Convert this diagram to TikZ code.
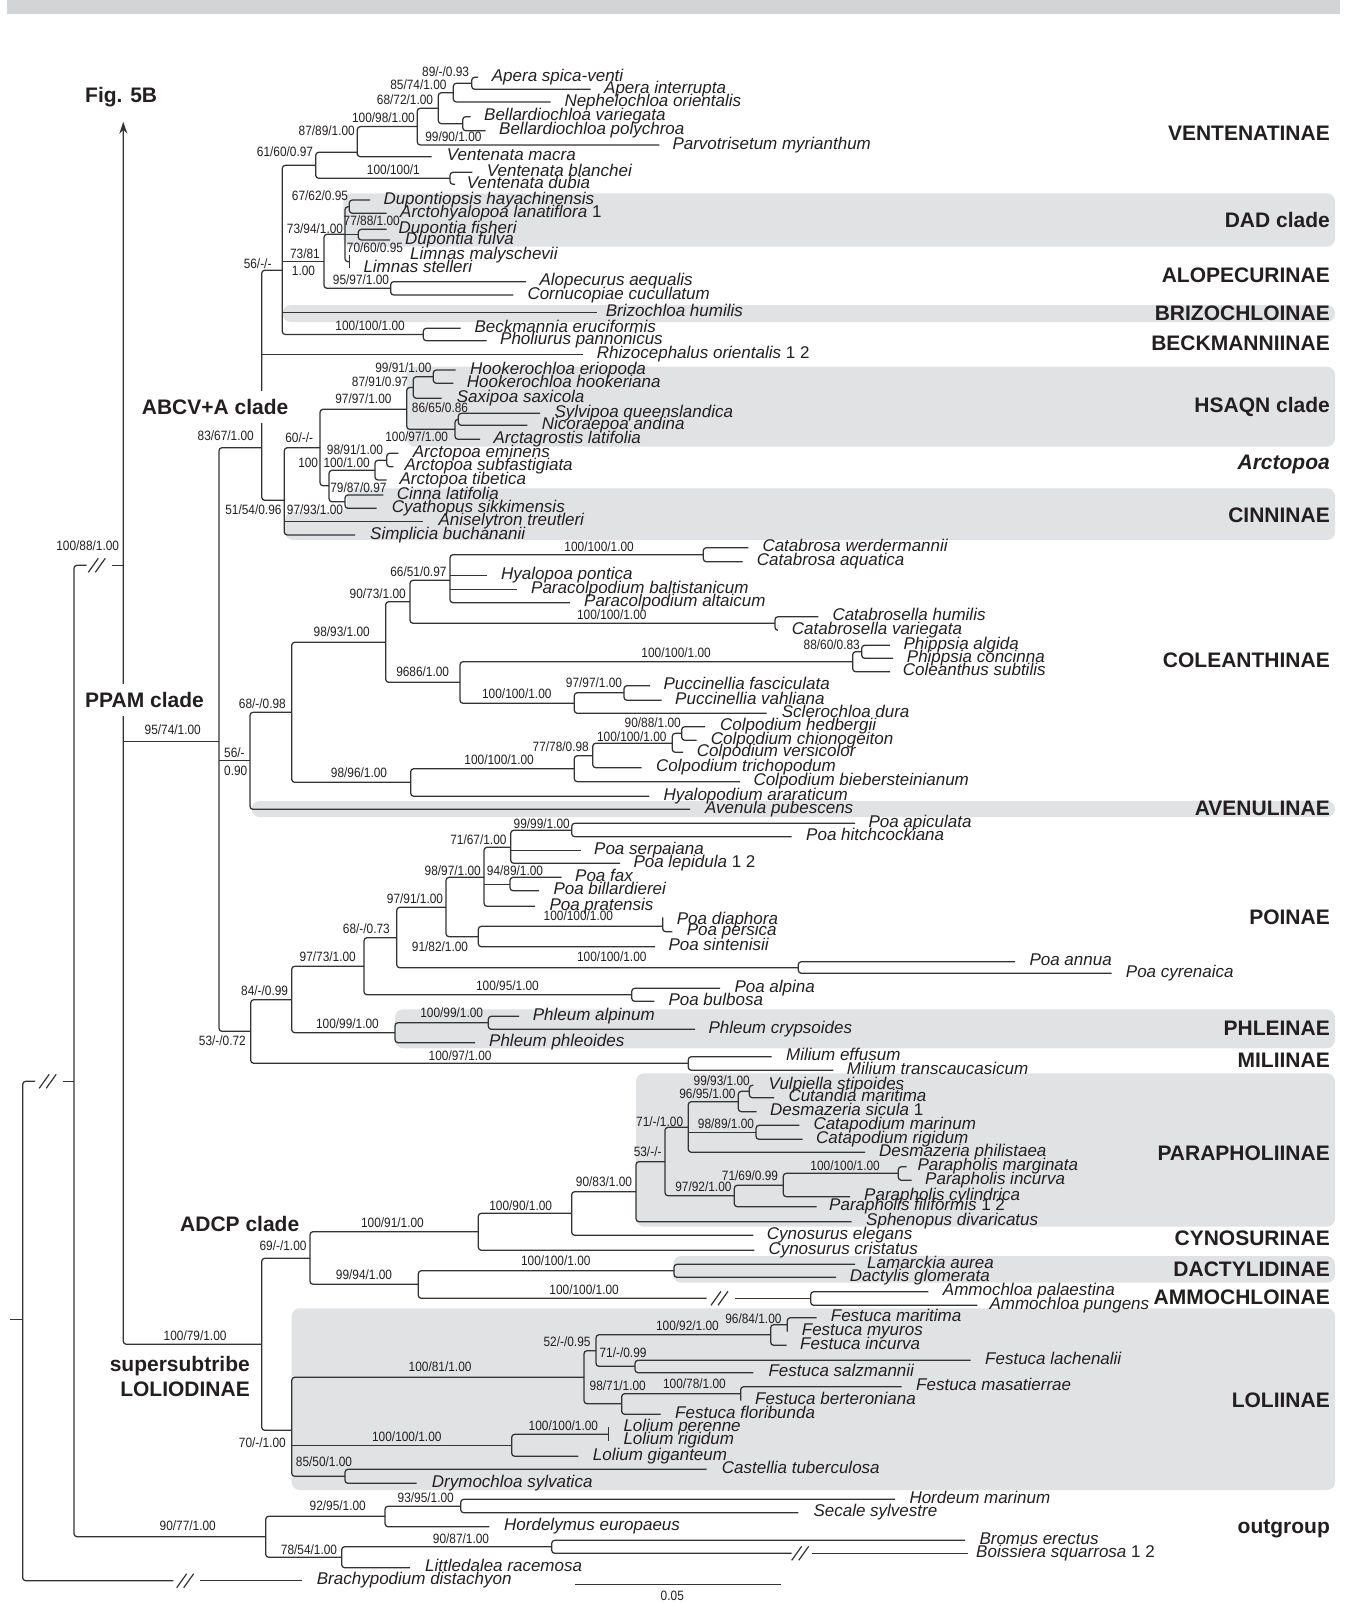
\documentclass[tikz,border=0pt]{standalone}
\usepackage{fontspec}
\setmainfont{Liberation Sans}
\newfontfamily\suppfont[FakeStretch=0.88]{Liberation Sans}
\usetikzlibrary{arrows.meta}
\definecolor{ink}{HTML}{231F20}
\definecolor{branch}{HTML}{333333}
\definecolor{bandgray}{HTML}{E1E2E4}
\definecolor{bargray}{HTML}{D3D4D6}
\newcounter{suppc}
\tikzset{
  br/.style={line width=1.25pt, draw=branch, rounded corners=3pt},
  sp/.style={anchor=base west, inner sep=0pt, text=ink, font=\fontsize{17}{17}\selectfont\itshape},
  sup/.style={inner sep=0pt, text=ink, font=\suppfont\fontsize{13.5}{13.5}\selectfont},
  grp/.style={anchor=base east, inner sep=0pt, text=ink, font=\fontsize{21}{21}\selectfont\bfseries},
  big/.style={anchor=base west, inner xsep=2pt, inner ysep=0pt, text=ink, font=\fontsize{21}{21}\selectfont\bfseries},
  band/.style={fill=bandgray, rounded corners=8pt},
  brkmark/.pic={\draw[line width=1.2pt, draw=branch] (-10,7) -- (0,-7) (-3,7) -- (7,-7);},
}
% taxon: name, tip x, tip y, text x, text
\newcommand\taxon[5]{\coordinate (#1) at (#2,#3); \node[sp] (#1-n) at (#4,#3+4) {#5};}
\newcommand\inode[3]{\coordinate (#1) at (#2,#3);}
\newcommand\clade[3]{\draw[br] (#2) -| (#1) |- (#3);}
\newcommand\midbr[2]{\draw[br] (#1 |- #2) -- (#2);}
\newcommand\supp[3]{\stepcounter{suppc}\node[sup,anchor=east] (s\arabic{suppc}) at (#1,#2) {#3};}
\newcommand\suppw[3]{\stepcounter{suppc}\node[sup,anchor=west] (s\arabic{suppc}) at (#1,#2) {#3};}
\begin{document}
\begin{tikzpicture}[x=1pt,y=-1pt]
\useasboundingbox (0,0) rectangle (1344,1603);
\fill[bargray] (7,0) rectangle (1340,14.5);

% ---------- shaded groups ----------
\fill[band] (343.3,193.3) rectangle (1335,246.7);
\fill[band] (282.7,305) rectangle (1335,322);
\fill[band] (406.7,366.7) rectangle (1335,446.7);
\fill[band] (347,488.3) -- (1335,488.3) -- (1335,540) -- (285,540) -- (285,512) -- (347,512) -- cycle;
\fill[band] (251.7,801) rectangle (1335,817);
\fill[band] (395,1009.3) rectangle (1335,1048.3);
\fill[band] (636,1073.3) rectangle (1335,1226.7);
\fill[band] (673.3,1256) rectangle (1335,1282.7);
\fill[band] (291.7,1308.3) rectangle (1335,1490);

% ---------- taxa ----------
\taxon{tApsp}{478}{77.3}{491.7}{Apera spica-venti}
\taxon{tApin}{590.7}{89.3}{604}{Apera interrupta}
\taxon{tNeph}{550.7}{102}{564.3}{Nephelochloa orientalis}
\taxon{tBvar}{470.7}{116.7}{484}{Bellardiochloa variegata}
\taxon{tBpol}{485.7}{130.7}{499}{Bellardiochloa polychroa}
\taxon{tParv}{659.3}{145}{672.3}{Parvotrisetum myrianthum}
\taxon{tVmac}{431.7}{156.7}{446.7}{Ventenata macra}
\taxon{tVbla}{472.3}{172.3}{486.7}{Ventenata blanchei}
\taxon{tVdub}{455}{184.3}{466.7}{Ventenata dubia}
\taxon{tDhay}{370}{200}{383.3}{Dupontiopsis hayachinensis}
\taxon{tAlan}{386.7}{213.3}{400}{Arctohyalopoa lanatiflora\upshape\ 1}
\taxon{tDfis}{386.7}{229.3}{398.3}{Dupontia fisheri}
\taxon{tDful}{390}{240}{405}{Dupontia fulva}
\taxon{tLmal}{349.3}{255}{410}{Limnas malyschevii}
\taxon{tLste}{349.3}{268.3}{363.3}{Limnas stelleri}
\taxon{tAaeq}{526}{281.7}{539.3}{Alopecurus aequalis}
\taxon{tCcuc}{513.3}{295}{527.3}{Cornucopiae cucullatum}
\taxon{tBhum}{596.7}{312.5}{605.7}{Brizochloa humilis}
\taxon{tBeru}{460.7}{328.3}{474.3}{Beckmannia eruciformis}
\taxon{tPpan}{486.7}{340.7}{500}{Pholiurus pannonicus}
\taxon{tRori}{583.3}{354.5}{596.7}{Rhizocephalus orientalis\upshape\ 1 2}
\taxon{tHeri}{455.7}{370}{470}{Hookerochloa eriopoda}
\taxon{tHhoo}{453.3}{383.3}{466.7}{Hookerochloa hookeriana}
\taxon{tSsax}{441.7}{398.3}{456.7}{Saxipoa saxicola}
\taxon{tSque}{540}{413.3}{554.3}{Sylvipoa queenslandica}
\taxon{tNand}{527.3}{425.3}{541.7}{Nicoraepoa andina}
\taxon{tAlat}{480}{439.3}{493.3}{Arctagrostis latifolia}
\taxon{tAemi}{398.3}{453.3}{412.7}{Arctopoa eminens}
\taxon{tAsub}{393.3}{466.7}{404.3}{Arctopoa subfastigiata}
\taxon{tAtib}{386.7}{480}{399.3}{Arctopoa tibetica}
\taxon{tClat}{383.3}{495}{396.7}{Cinna latifolia}
\taxon{tCsik}{376.7}{508.3}{391.7}{Cyathopus sikkimensis}
\taxon{tAtre}{423.3}{521.5}{438.3}{Aniselytron treutleri}
\taxon{tSbuc}{355}{535}{370}{Simplicia buchananii}
\taxon{tCwer}{748.3}{547.7}{762.3}{Catabrosa werdermannii}
\taxon{tCaqu}{742.7}{561.7}{756.7}{Catabrosa aquatica}
\taxon{tHpon}{486.7}{575.3}{501}{Hyalopoa pontica}
\taxon{tPbal}{516.7}{589.3}{531}{Paracolpodium baltistanicum}
\taxon{tPalt}{570}{602.7}{584}{Paracolpodium altaicum}
\taxon{tChum}{818.3}{616.7}{832.3}{Catabrosella humilis}
\taxon{tCvar}{778}{630.3}{791.7}{Catabrosella variegata}
\taxon{tPalg}{890}{645.3}{903.3}{Phippsia algida}
\taxon{tPcon}{893}{658.3}{906.7}{Phippsia concinna}
\taxon{tCsub}{890}{671.7}{902.7}{Coleanthus subtilis}
\taxon{tPfas}{650}{685.7}{663.3}{Puccinellia fasciculata}
\taxon{tPvah}{661.7}{700.3}{675}{Puccinellia vahliana}
\taxon{tSdur}{766.7}{713.3}{781.7}{Sclerochloa dura}
\taxon{tChed}{705}{726.7}{720}{Colpodium hedbergii}
\taxon{tCchi}{696.7}{740.3}{710.7}{Colpodium chionogeiton}
\taxon{tCver}{683}{752.3}{696.7}{Colpodium versicolor}
\taxon{tCtri}{641.7}{767.7}{656}{Colpodium trichopodum}
\taxon{tCbie}{740}{781.7}{753.3}{Colpodium biebersteinianum}
\taxon{tHara}{649.3}{796.3}{663.3}{Hyalopodium araraticum}
\taxon{tApub}{690}{809.3}{705}{Avenula pubescens}
\taxon{tPapi}{855}{823.3}{868.3}{Poa apiculata}
\taxon{tPhit}{791.7}{836.7}{806}{Poa hitchcockiana}
\taxon{tPser}{581}{850.7}{594}{Poa serpaiana}
\taxon{tPlep}{620}{863.3}{633.3}{Poa lepidula\upshape\ 1 2}
\taxon{tPfax}{561.7}{877.3}{575}{Poa fax}
\taxon{tPbil}{539}{890.7}{553.3}{Poa billardierei}
\taxon{tPpra}{535}{906.3}{549.3}{Poa pratensis}
\taxon{tPdia}{662.7}{920.3}{676.7}{Poa diaphora}
\taxon{tPper}{672.3}{931.7}{686.7}{Poa persica}
\taxon{tPsin}{655}{946.7}{668.3}{Poa sintenisii}
\taxon{tPann}{1015}{961.7}{1029.3}{Poa annua}
\taxon{tPcyr}{1111.7}{973.3}{1125.7}{Poa cyrenaica}
\taxon{tPalp}{720}{988.3}{734.3}{Poa alpina}
\taxon{tPbul}{654.3}{1001.3}{668.3}{Poa bulbosa}
\taxon{tPhal}{519}{1016.3}{532.7}{Phleum alpinum}
\taxon{tPhcr}{695}{1029.3}{708.3}{Phleum crypsoides}
\taxon{tPhph}{475}{1042.7}{489}{Phleum phleoides}
\taxon{tMeff}{771.7}{1056.7}{786}{Milium effusum}
\taxon{tMtra}{833.3}{1070.3}{846.7}{Milium transcaucasicum}
\taxon{tVsti}{753.3}{1085.3}{768.3}{Vulpiella stipoides}
\taxon{tCmar}{774}{1097.7}{788.3}{Cutandia maritima}
\taxon{tDsic}{756.7}{1111.7}{770}{Desmazeria sicula\upshape\ 1}
\taxon{tCmrn}{799.3}{1125.3}{813.3}{Catapodium marinum}
\taxon{tCrig}{802.7}{1139.3}{816}{Catapodium rigidum}
\taxon{tDphi}{865}{1152.3}{879}{Desmazeria philistaea}
\taxon{tPmar}{906.7}{1166.7}{917.3}{Parapholis marginata}
\taxon{tPinc}{911.7}{1180.3}{925}{Parapholis incurva}
\taxon{tPcyl}{850}{1196.7}{864}{Parapholis cylindrica}
\taxon{tPfil}{816.7}{1206.7}{829}{Parapholis filiformis\upshape\ 1 2}
\taxon{tSdiv}{851.7}{1221.7}{866}{Sphenopus divaricatus}
\taxon{tCele}{753.3}{1235.3}{766.7}{Cynosurus elegans}
\taxon{tCcri}{754.3}{1250.3}{768.3}{Cynosurus cristatus}
\taxon{tLaur}{855}{1264.3}{867}{Lamarckia aurea}
\taxon{tDglo}{836}{1277.3}{849.7}{Dactylis glomerata}
\taxon{tApal}{928.3}{1291.7}{942.7}{Ammochloa palaestina}
\taxon{tApun}{977.3}{1305.3}{989.3}{Ammochloa pungens}
\taxon{tFmar}{816.7}{1317.7}{830.7}{Festuca maritima}
\taxon{tFmyu}{787.3}{1331.7}{801.7}{Festuca myuros}
\taxon{tFinc}{786.7}{1345.3}{800}{Festuca incurva}
\taxon{tFlac}{970.7}{1360.3}{985}{Festuca lachenalii}
\taxon{tFsal}{753.3}{1372.7}{768.3}{Festuca salzmannii}
\taxon{tFmas}{901.7}{1386.7}{916}{Festuca masatierrae}
\taxon{tFber}{740.7}{1400.7}{755}{Festuca berteroniana}
\taxon{tFflo}{660.7}{1414.3}{675}{Festuca floribunda}
\taxon{tLper}{608.3}{1427.3}{623.3}{Lolium perenne}
\taxon{tLrig}{608.3}{1440.7}{623.3}{Lolium rigidum}
\taxon{tLgig}{578.3}{1456.3}{592.7}{Lolium giganteum}
\taxon{tCtub}{706.7}{1469.3}{721.7}{Castellia tuberculosa}
\taxon{tDsyl}{416.7}{1483.3}{431.7}{Drymochloa sylvatica}
\taxon{tHmar}{895}{1499.3}{909.3}{Hordeum marinum}
\taxon{tSsyl}{798.3}{1512.7}{813.3}{Secale sylvestre}
\taxon{tHeur}{489.3}{1526.7}{504}{Hordelymus europaeus}
\taxon{tBrer}{965}{1540.3}{979.3}{Bromus erectus}
\taxon{tBsqu}{968.3}{1553.3}{976}{Boissiera squarrosa\upshape\ 1 2}
\taxon{tLrac}{410}{1567.7}{425}{Littledalea racemosa}
\taxon{tBdis}{301.7}{1580.7}{316.7}{Brachypodium distachyon}

% ---------- internal nodes (x of the bracket, y where the stem enters) ----------
\inode{N472}{471.7}{83.3}
\inode{N453}{453.3}{92.7}
\inode{N462}{462.7}{123.7}
\inode{N438}{438.3}{108.2}
\inode{N417}{417.3}{126.6}
\inode{N357}{357.3}{152.3}
\inode{N450}{450}{178.3}
\inode{N315}{315.7}{165.3}
\inode{N349a}{349.3}{206.7}
\inode{N358}{358.3}{234.7}
\inode{N349b}{349.3}{261.7}
\inode{N345}{345}{234.3}
\inode{N390}{390.7}{288.3}
\inode{N324}{324}{261.3}
\inode{N425}{423.3}{334.5}
\inode{N282}{282.3}{270.3}
\inode{N433}{433.3}{376.7}
\inode{N413}{413.3}{387.5}
\inode{NC2}{458.3}{419.3}
\inode{NC}{455}{429.3}
\inode{N407}{406.7}{409.3}
\inode{N386}{386.7}{460.3}
\inode{N375}{375}{470.3}
\inode{N345c}{345}{501.7}
\inode{N329}{329}{485.7}
\inode{N320}{320}{447.7}
\inode{N284}{284.3}{500.3}
\inode{N261}{261.7}{447.7}
\inode{N703}{703.3}{554.7}
\inode{N449}{450}{580.3}
\inode{N775}{775}{623.3}
\inode{N410}{410}{601.7}
\inode{N861}{861.7}{651.7}
\inode{N852}{852.7}{661.7}
\inode{N624}{624}{692.7}
\inode{N574a}{574.3}{703.3}
\inode{N460}{460}{682.3}
\inode{N385}{385.7}{642.3}
\inode{N681}{681.7}{733.3}
\inode{N672}{672.3}{743.3}
\inode{N592}{592.7}{755.7}
\inode{N574b}{574.3}{768.7}
\inode{N410b}{410.7}{782.3}
\inode{N291}{291.7}{712.3}
\inode{N250a}{250}{760.7}
\inode{N571}{571.7}{830.3}
\inode{N510b}{510.7}{847.3}
\inode{N510}{510}{884.3}
\inode{N484}{484}{877.3}
\inode{N662}{662.7}{926.3}
\inode{N478}{478.3}{936.7}
\inode{N446}{446}{907.3}
\inode{N798}{798.3}{967.7}
\inode{N396}{396.7}{937.7}
\inode{N631}{631.7}{994.7}
\inode{N364}{364}{966.3}
\inode{N488}{488.3}{1022.7}
\inode{N395}{395}{1032.7}
\inode{N291b}{291.7}{999.7}
\inode{N688}{688.3}{1063.3}
\inode{N250b}{250.7}{1031.3}
\inode{N219}{219}{741.7}
\inode{N749}{749.3}{1091.3}
\inode{N738}{738.3}{1101.7}
\inode{N756}{756}{1132.3}
\inode{N688c}{688.3}{1127.3}
\inode{N898}{898.3}{1173.3}
\inode{N783}{783.3}{1185.3}
\inode{N734}{734.3}{1195.7}
\inode{N665}{665}{1161.7}
\inode{N636}{636}{1191.7}
\inode{N571c}{571.7}{1213.3}
\inode{N478c}{478.3}{1231.7}
\inode{N674}{674}{1270.7}
\inode{N810}{810.7}{1298.3}
\inode{N418}{418.3}{1284.3}
\inode{N310}{310}{1258.3}
\inode{N787}{787.3}{1324.7}
\inode{N770}{770.7}{1334.7}
\inode{N635}{635}{1366.3}
\inode{N596}{596}{1350.7}
\inode{N740}{740.7}{1393.7}
\inode{N621}{621.7}{1403.7}
\inode{N584}{584}{1377.3}
\inode{N608}{608.3}{1434.3}
\inode{N511}{511.7}{1445.3}
\inode{N345d}{345}{1476.3}
\inode{N291c}{291.7}{1430.3}
\inode{N262}{261.7}{1344.3}
\inode{N460o}{460.7}{1506.3}
\inode{N385o}{385}{1516.3}
\inode{N551}{551.7}{1546.7}
\inode{N341}{341.7}{1557.3}
\inode{N265}{265.7}{1536.7}
\inode{N123}{123.3}{565.3}
\inode{N74}{74}{1081.3}
\inode{R0}{22.7}{1319.3}
\coordinate (root) at (10,1319.3);
\coordinate (arrowtip) at (123.3,121.7);
% branch-break ends
\coordinate (bk1a) at (35,1081.3);     \coordinate (bk1b) at (63.3,1081.3);
\coordinate (bk2a) at (173.3,1580.7); \coordinate (bk2b) at (200,1580.7);
\coordinate (bk3a) at (86.7,565.3);    \coordinate (bk3b) at (111.7,565.3);
\coordinate (bkAa) at (706.7,1298.3); \coordinate (bkAb) at (735,1298.3);
\coordinate (bkBa) at (791.7,1553.3); \coordinate (bkBb) at (811.7,1553.3);

% ---------- branches ----------
\clade{N472}{tApsp}{tApin}
\clade{N453}{N472}{tNeph}
\clade{N462}{tBvar}{tBpol}
\clade{N438}{N453}{N462}
\clade{N417}{N438}{tParv}
\clade{N357}{N417}{tVmac}
\clade{N450}{tVbla}{tVdub}
\clade{N315}{N357}{N450}
\clade{N349a}{tDhay}{tAlan}
\clade{N358}{tDfis}{tDful}
\draw[br] (tLmal) -- (tLste);
\clade{N345}{N349a}{N349b} \midbr{N345}{N358}
\clade{N390}{tAaeq}{tCcuc}
\clade{N324}{N345}{N390}
\clade{N425}{tBeru}{tPpan}
\clade{N282}{N315}{N425} \midbr{N282}{N324} \midbr{N282}{tBhum}
\clade{N433}{tHeri}{tHhoo}
\clade{N413}{N433}{tSsax}
\clade{NC2}{tSque}{tNand}
\clade{NC}{NC2}{tAlat}
\clade{N407}{N413}{NC}
\clade{N386}{tAemi}{tAsub}
\clade{N375}{N386}{tAtib}
\clade{N345c}{tClat}{tCsik}
\clade{N329}{N375}{N345c}
\clade{N320}{N407}{N329}
\clade{N284}{N320}{tSbuc} \midbr{N284}{tAtre}
\clade{N261}{N282}{N284} \midbr{N261}{tRori}
\clade{N703}{tCwer}{tCaqu}
\clade{N449}{N703}{tPalt} \midbr{N449}{tHpon} \midbr{N449}{tPbal}
\clade{N775}{tChum}{tCvar}
\clade{N410}{N449}{N775}
\clade{N861}{tPalg}{tPcon}
\clade{N852}{N861}{tCsub}
\clade{N624}{tPfas}{tPvah}
\clade{N574a}{N624}{tSdur}
\clade{N460}{N852}{N574a}
\clade{N385}{N410}{N460}
\clade{N681}{tChed}{tCchi}
\clade{N672}{N681}{tCver}
\clade{N592}{N672}{tCtri}
\clade{N574b}{N592}{tCbie}
\clade{N410b}{N574b}{tHara}
\clade{N291}{N385}{N410b}
\clade{N250a}{N291}{tApub}
\clade{N571}{tPapi}{tPhit}
\clade{N510b}{N571}{tPlep} \midbr{N510b}{tPser}
\clade{N510}{tPfax}{tPbil}
\clade{N484}{N510b}{tPpra} \midbr{N484}{N510}
\clade{N662}{tPdia}{tPper}
\clade{N478}{N662}{tPsin}
\clade{N446}{N484}{N478}
\clade{N798}{tPann}{tPcyr}
\clade{N396}{N446}{N798}
\clade{N631}{tPalp}{tPbul}
\clade{N364}{N396}{N631}
\clade{N488}{tPhal}{tPhcr}
\clade{N395}{N488}{tPhph}
\clade{N291b}{N364}{N395}
\clade{N688}{tMeff}{tMtra}
\clade{N250b}{N291b}{N688}
\clade{N219}{N261}{N250b} \midbr{N219}{N250a}
\clade{N749}{tVsti}{tCmar}
\clade{N738}{N749}{tDsic}
\clade{N756}{tCmrn}{tCrig}
\clade{N688c}{N738}{tDphi} \midbr{N688c}{N756}
\clade{N898}{tPmar}{tPinc}
\clade{N783}{N898}{tPcyl}
\clade{N734}{N783}{tPfil}
\clade{N665}{N688c}{N734}
\clade{N636}{N665}{tSdiv}
\clade{N571c}{N636}{tCele}
\clade{N478c}{N571c}{tCcri}
\clade{N674}{tLaur}{tDglo}
\clade{N810}{tApal}{tApun}
\draw[br] (N674) -| (N418) |- (bkAa);
\draw[br] (bkAb) -- (N810);
\clade{N310}{N478c}{N418}
\clade{N787}{tFmar}{tFmyu}
\clade{N770}{N787}{tFinc}
\clade{N635}{tFlac}{tFsal}
\clade{N596}{N770}{N635}
\clade{N740}{tFmas}{tFber}
\clade{N621}{N740}{tFflo}
\clade{N584}{N596}{N621}
\draw[br] (tLper) -- (tLrig);
\clade{N511}{N608}{tLgig}
\clade{N345d}{tCtub}{tDsyl}
\clade{N291c}{N584}{N345d} \midbr{N291c}{N511}
\clade{N262}{N310}{N291c}
\clade{N460o}{tHmar}{tSsyl}
\clade{N385o}{N460o}{tHeur}
\draw[br] (tBrer) -| (N551) |- (bkBa);
\draw[br] (bkBb) -- (tBsqu);
\clade{N341}{N551}{tLrac}
\clade{N265}{N385o}{N341}
% backbone
\draw[br,-{Stealth[length=12pt,width=8pt]}] (N262) -| (N123) -- (arrowtip);
\midbr{N123}{N219}
\draw[br] (bk3a) -| (N74) |- (N265);
\draw[br] (bk3b) -- (N123);
\draw[br] (bk1a) -| (R0) |- (bk2a);
\draw[br] (bk1b) -- (N74);
\draw[br] (bk2b) -- (tBdis);
\draw[br] (root) -- (R0);
\pic at (98.3,565.3) {brkmark};
\pic at (49.2,1081.3) {brkmark};
\pic at (186.7,1580.7) {brkmark};
\pic at (721,1298.3) {brkmark};
\pic at (801.7,1553.3) {brkmark};

% scale bar
\coordinate (sb1) at (575,1584.3);
\coordinate (sb2) at (780.7,1584.3);
\draw[br] (sb1) -- (sb2);
\node[sup] (sblab) at (672.3,1596) {0.05};

% ---------- support values ----------
\supp{469.3}{71.7}{89/-/0.93}
\supp{446.7}{85}{85/74/1.00}
\supp{433.3}{99.3}{68/72/1.00}
\supp{415}{117.3}{100/98/1.00}
\supp{481.7}{136.7}{99/90/1.00}
\supp{355}{131}{87/89/1.00}
\supp{313.3}{152}{61/60/0.97}
\supp{420}{170}{100/100/1}
\supp{348.3}{196}{67/62/0.95}
\supp{400}{221}{77/88/1.00}
\supp{343.3}{228.3}{73/94/1.00}
\supp{403.3}{247.3}{70/60/0.95}
\supp{320}{253.3}{73/81}
\suppw{291.7}{270.7}{1.00}
\supp{271.7}{263.3}{56/-/-}
\supp{389.3}{280}{95/97/1.00}
\supp{405}{326}{100/100/1.00}
\supp{431.7}{367.3}{99/91/1.00}
\supp{408.3}{381.7}{87/91/0.97}
\supp{391.7}{399}{97/97/1.00}
\supp{468.3}{407.3}{86/65/0.86}
\supp{254}{436}{83/67/1.00}
\supp{313.3}{437.3}{60/-/-}
\supp{448.3}{436.7}{100/97/1.00}
\supp{383.3}{450}{98/91/1.00}
\supp{318.3}{462.7}{100}
\suppw{323.3}{462.7}{100/1.00}
\supp{386.7}{487.3}{79/87/0.97}
\supp{281.7}{510}{51/54/0.96}
\supp{343.3}{510}{97/93/1.00}
\supp{119.3}{545.7}{100/88/1.00}
\supp{446.7}{571.7}{66/51/0.97}
\supp{406}{593.3}{90/73/1.00}
\supp{370}{631.7}{98/93/1.00}
\supp{449.3}{671.7}{9686/1.00}
\supp{286}{704}{68/-/0.98}
\supp{201}{730}{95/74/1.00}
\suppw{224}{752.7}{56/-}
\suppw{224}{770.7}{0.90}
\supp{387.3}{772.7}{98/96/1.00}
\supp{634}{546.7}{100/100/1.00}
\supp{646.7}{615}{100/100/1.00}
\supp{860}{645}{88/60/0.83}
\supp{711}{652.3}{100/100/1.00}
\supp{622.3}{682.7}{97/97/1.00}
\supp{551.7}{693.3}{100/100/1.00}
\supp{681}{722.7}{90/88/1.00}
\supp{666.7}{736.7}{100/100/1.00}
\supp{589}{746.7}{77/78/0.98}
\supp{534}{760}{100/100/1.00}
\supp{570}{823.3}{99/99/1.00}
\supp{506.7}{839.3}{71/67/1.00}
\supp{481}{870.7}{98/97/1.00}
\supp{543.3}{870.7}{94/89/1.00}
\supp{443.3}{898.3}{97/91/1.00}
\supp{613.3}{916}{100/100/1.00}
\supp{390}{928.3}{68/-/0.73}
\supp{468.3}{946.7}{91/82/1.00}
\supp{356}{956.7}{97/73/1.00}
\supp{646.7}{956.7}{100/100/1.00}
\supp{539}{985.7}{100/95/1.00}
\supp{288.3}{990.7}{84/-/0.99}
\supp{483.3}{1012.3}{100/99/1.00}
\supp{379}{1023.3}{100/99/1.00}
\supp{246}{1040.7}{53/-/0.72}
\supp{491.7}{1056}{100/97/1.00}
\supp{750}{1081}{99/93/1.00}
\supp{735.7}{1094}{96/95/1.00}
\supp{683.3}{1121.7}{71/-/1.00}
\supp{754.3}{1124}{98/89/1.00}
\supp{661.7}{1151.7}{53/-/-}
\supp{880}{1166}{100/100/1.00}
\supp{778.3}{1175.7}{71/69/0.99}
\supp{632.3}{1181.7}{90/83/1.00}
\supp{731.7}{1186.7}{97/92/1.00}
\supp{552.3}{1205.7}{100/90/1.00}
\supp{424}{1222.3}{100/91/1.00}
\supp{306.7}{1246}{69/-/1.00}
\supp{590.7}{1260.7}{100/100/1.00}
\supp{392.3}{1275}{99/94/1.00}
\supp{619}{1290}{100/100/1.00}
\supp{781.7}{1318.3}{96/84/1.00}
\supp{719}{1325.7}{100/92/1.00}
\supp{226.7}{1336}{100/79/1.00}
\supp{590.7}{1341.7}{52/-/0.95}
\supp{646.7}{1352.3}{71/-/0.99}
\supp{471.7}{1366.7}{100/81/1.00}
\supp{726}{1383.3}{100/78/1.00}
\supp{646}{1386}{98/71/1.00}
\supp{598.3}{1426}{100/100/1.00}
\supp{441.7}{1436.7}{100/100/1.00}
\supp{286}{1442.3}{70/-/1.00}
\supp{352.3}{1461.7}{85/50/1.00}
\supp{454}{1497.3}{93/95/1.00}
\supp{366}{1506}{92/95/1.00}
\supp{216}{1525.7}{90/77/1.00}
\supp{489.3}{1538.3}{90/87/1.00}
\supp{337.3}{1550}{78/54/1.00}

% ---------- group names ----------
\node[grp] (gVen) at (1330,140.8) {VENTENATINAE};
\node[grp] (gDad) at (1330,227.5) {DAD clade};
\node[grp] (gAlo) at (1330,282.5) {ALOPECURINAE};
\node[grp] (gBri) at (1330,320.8) {BRIZOCHLOINAE};
\node[grp] (gBec) at (1330,350.8) {BECKMANNIINAE};
\node[grp] (gHsa) at (1330,412.5) {HSAQN clade};
\node[grp,font=\fontsize{21}{21}\selectfont\bfseries\itshape] (gArc) at (1330,469.2) {Arctopoa};
\node[grp] (gCin) at (1330,522.5) {CINNINAE};
\node[grp] (gCol) at (1330,667.5) {COLEANTHINAE};
\node[grp] (gAve) at (1330,815.8) {AVENULINAE};
\node[grp] (gPoi) at (1330,924.2) {POINAE};
\node[grp] (gPhl) at (1330,1035.8) {PHLEINAE};
\node[grp] (gMil) at (1330,1067.5) {MILIINAE};
\node[grp] (gPar) at (1330,1160.8) {PARAPHOLIINAE};
\node[grp] (gCyn) at (1330,1245.8) {CYNOSURINAE};
\node[grp] (gDac) at (1330,1276.8) {DACTYLIDINAE};
\node[grp] (gAmm) at (1330,1304.2) {AMMOCHLOINAE};
\node[grp] (gLol) at (1330,1407.5) {LOLIINAE};
\node[grp] (gOut) at (1330,1533.3) {outgroup};

\node[big] (fig) at (83,102.5) {Fig. 5B};
\node[big,fill=white,inner ysep=8pt] (abcv) at (139.7,414.5) {ABCV+A clade};
\node[big,fill=white,inner ysep=8pt] (ppam) at (83,707.5) {PPAM clade};
\node[big] (adcp) at (178,1231.8) {ADCP clade};
\node[grp] (sst) at (250,1371) {supersubtribe};
\node[grp] (lolid) at (250,1396.7) {LOLIODINAE};
\end{tikzpicture}
\end{document}
